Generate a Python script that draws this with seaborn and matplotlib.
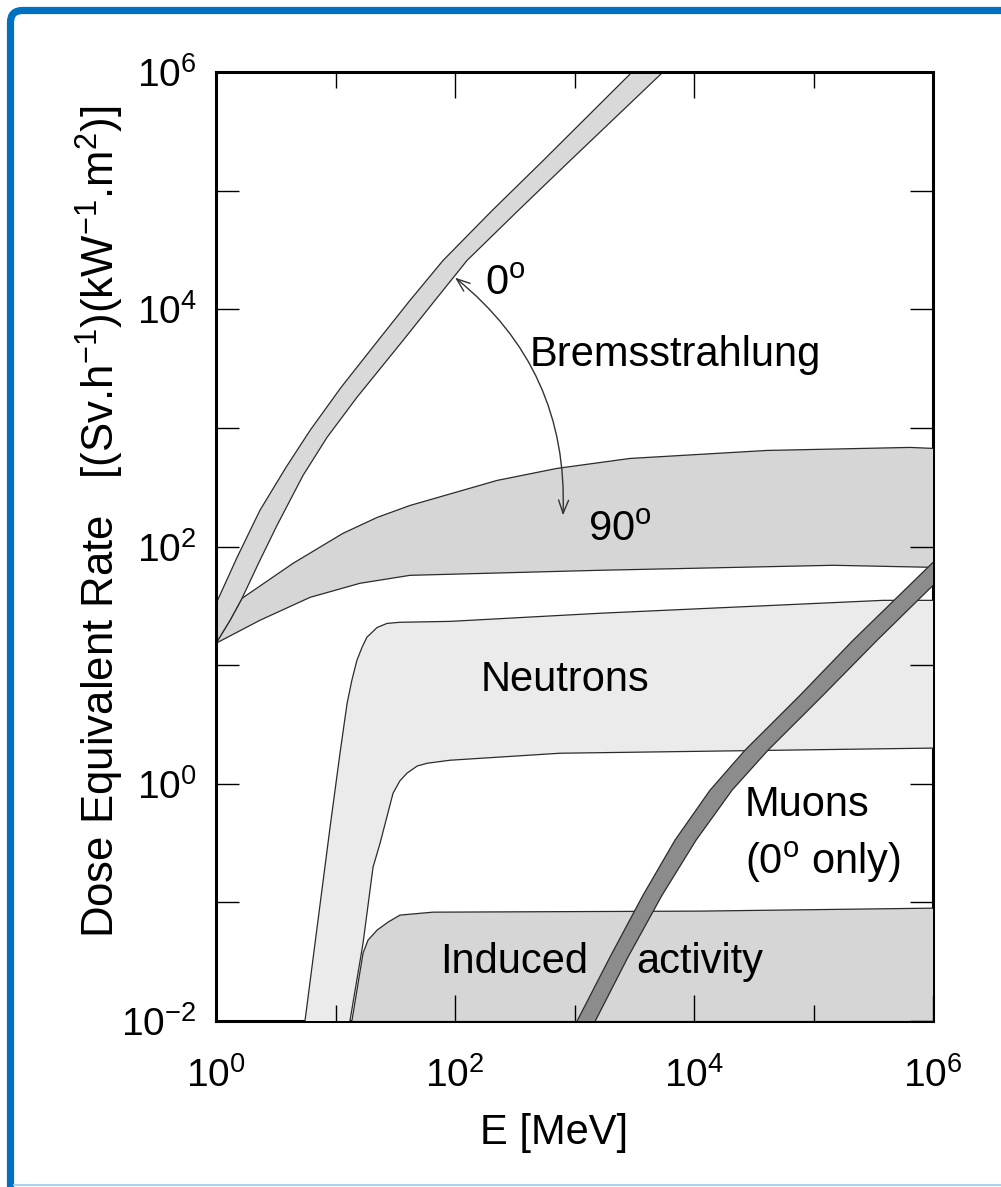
import numpy as np
import matplotlib.pyplot as plt
import seaborn as sns
from matplotlib.patches import FancyBboxPatch
from matplotlib.ticker import NullLocator

# Bremsstrahlung, 0 deg band
brems0_upper_E = [1.0, 1.5, 2.33, 3.85, 6.12, 11.1, 22.7, 42.0, 79.4, 204, 545, 3030]
brems0_upper_H = [33, 81, 202, 465, 953, 2190, 5460, 11900, 25800, 67900, 179000, 1e6]
brems0_lower_E = [1.0, 1.31, 1.65, 2.33, 3.24, 5.35, 8.49, 15.1, 36.7, 68.0, 126, 337, 917, 5500]
brems0_lower_H = [15.3, 23.9, 36.6, 76.5, 151, 398, 832, 1810, 5460, 11900, 25800, 67900, 179000, 1e6]

# Bremsstrahlung, 90 deg band
brems90_upper_E = [1.0, 1.31, 1.65, 4.41, 11.5, 22.3, 42.0, 225, 714, 2910, 40800, 642000, 1e6]
brems90_upper_H = [15.3, 23.9, 36.6, 72.2, 129, 176, 222, 361, 456, 553, 646, 685, 672]
brems90_lower_E = [1.0, 2.33, 6.12, 16.0, 42.0, 1630, 146000, 1e6]
brems90_lower_H = [15.3, 23.9, 37.3, 49.0, 57.2, 63.1, 69.5, 66.8]

# Neutrons
neut_upper_E = [5.55, 9.0, 10.9, 12.5, 13.7, 15.1, 16.7, 18.3, 22.3, 27.0, 34.6, 90.8, 1630, 382000, 1e6]
neut_upper_H = [0.01, 0.43, 1.81, 4.77, 7.46, 11.0, 14.2, 17.2, 20.8, 22.5, 23.0, 23.4, 27.4, 35.2, 35.2]
neut_lower_E = [13.2, 17.0, 20.6, 23.6, 30.3, 34.6, 39.7, 48.1, 58.3, 90.8, 756, 1e6]
neut_lower_H = [0.01, 0.0454, 0.198, 0.316, 0.834, 1.06, 1.23, 1.41, 1.49, 1.58, 1.81, 2.0]

# Induced activity
induced_E = [13.7, 17.0, 18.7, 22.3, 27.5, 34.6, 65.5, 11200, 1e6]
induced_H = [0.01, 0.0374, 0.0481, 0.0585, 0.0682, 0.0782, 0.0828, 0.0845, 0.0895]

# Muons (0 deg only)
muon_upper_E = [1050, 1980, 3740, 6930, 13600, 26700, 77100, 214000, 1e6]
muon_upper_H = [0.01, 0.0346, 0.115, 0.335, 0.883, 1.92, 5.57, 16.2, 73.6]
muon_lower_E = [1490, 2800, 5400, 10400, 20800, 41600, 120000, 340000, 1e6]
muon_lower_H = [0.01, 0.0346, 0.115, 0.335, 0.883, 1.92, 5.57, 16.2, 47.1]

x_ticks = [1, 1e2, 1e4, 1e6]
x_ticklabels = ['$10^{0}$', '$10^{2}$', '$10^{4}$', '$10^{6}$']
x_minor_ticks = [10, 1e3, 1e5]
y_ticks = [1e-2, 1e-1, 1, 10, 1e2, 1e3, 1e4, 1e5, 1e6]
y_ticklabels = ['$10^{-2}$', '', '$10^{0}$', '', '$10^{2}$', '', '$10^{4}$', '', '$10^{6}$']

sns.set_theme(style='ticks')
plt.rcParams['font.family'] = ['Liberation Sans', 'DejaVu Sans']
plt.rcParams['mathtext.fontset'] = 'custom'
plt.rcParams['mathtext.rm'] = 'Liberation Sans'
plt.rcParams['mathtext.default'] = 'regular'
plt.rcParams['text.color'] = 'black'
plt.rcParams['axes.labelcolor'] = 'black'
plt.rcParams['xtick.color'] = 'black'
plt.rcParams['ytick.color'] = 'black'

fig = plt.figure(figsize=(10.01, 11.87), dpi=100)
ax = fig.add_axes([0.2158, 0.1398, 0.7163, 0.7995])
ax.set_xscale('log')
ax.set_yscale('log')
ax.set_xlim(1, 1e6)
ax.set_ylim(1e-2, 1e6)

edge = '#2b2b2b'


def band(uE, uH, lE, lH, color, z=1):
    xs = list(uE) + list(lE)[::-1]
    ys = list(uH) + list(lH)[::-1]
    ax.fill(xs, ys, color=color, lw=0, zorder=z)
    sns.lineplot(x=uE, y=uH, sort=False, estimator=None, color=edge, lw=0.9, ax=ax, zorder=z + 0.1)
    sns.lineplot(x=lE, y=lH, sort=False, estimator=None, color=edge, lw=0.9, ax=ax, zorder=z + 0.1)


band(neut_upper_E, neut_upper_H, neut_lower_E, neut_lower_H, '#ebebeb')
band(induced_E, induced_H, [induced_E[0], 1e6], [0.01, 0.01], '#d6d6d6')
band(brems90_upper_E, brems90_upper_H, brems90_lower_E, brems90_lower_H, '#d6d6d6')
band(brems0_upper_E, brems0_upper_H, brems0_lower_E, brems0_lower_H, '#d9d9d9', z=1.2)
band(muon_upper_E, muon_upper_H, muon_lower_E, muon_lower_H, '#8c8c8c', z=1.4)

# labels
fs = 30
ax.text(178, 16500, '0$^{o}$', fontsize=fs, va='center', ha='left')
ax.text(424, 4080, 'Bremsstrahlung', fontsize=fs, va='center', ha='left')
ax.text(1300, 137, '90$^{o}$', fontsize=fs, va='center', ha='left')
ax.text(165, 7.46, 'Neutrons', fontsize=fs, va='center', ha='left')
ax.text(26700, 0.661, 'Muons', fontsize=fs, va='center', ha='left')
ax.text(26700, 0.219, '(0$^{o}$ only)', fontsize=fs, va='center', ha='left')
ax.text(74.9, 0.0314, 'Induced', fontsize=fs, va='center', ha='left')
ax.text(3270, 0.0314, 'activity', fontsize=fs, va='center', ha='left')

# curved double arrow from 0 deg to 90 deg
ax.annotate('', xy=(801, 183), xytext=(100, 18500),
            arrowprops=dict(arrowstyle='<->,head_length=0.8,head_width=0.3', color='#333333', lw=1.0,
                            shrinkA=0, shrinkB=0, connectionstyle='arc3,rad=-0.25'))

ax.set_xticks(x_ticks, labels=x_ticklabels)
ax.set_xticks(x_minor_ticks, labels=['', '', ''], minor=True)
ax.set_yticks(y_ticks, labels=y_ticklabels)
ax.yaxis.set_minor_locator(NullLocator())
ax.tick_params(axis='x', which='major', direction='in', length=18.5, width=1.0, top=True, bottom=True,
               labelsize=28, pad=26)
ax.tick_params(axis='x', which='minor', direction='in', length=11.5, width=1.0, top=True, bottom=True)
ax.tick_params(axis='y', which='major', direction='in', length=16.5, width=1.0, left=True, right=True,
               labelsize=28, pad=14)
ax.set_axisbelow(False)

for side in ['left', 'top', 'right', 'bottom']:
    ax.spines[side].set_linewidth(2.2)
    ax.spines[side].set_color('black')
ax.spines['right'].set_zorder(0.9)
ax.spines['bottom'].set_zorder(0.9)

ax.set_xlabel('E [MeV]', fontsize=30)
ax.xaxis.set_label_coords(0.471, -0.097)
ax.set_ylabel('Dose Equivalent Rate   [(Sv.h$^{-1}$)(kW$^{-1}$.m$^{2}$)]', fontsize=31.5, va='center')
ax.yaxis.set_label_coords(-0.162, 0.526)

# blue slide frame
frame = FancyBboxPatch((0.105, -1), 20, 12.765, boxstyle='round,pad=0,rounding_size=0.12',
                       transform=fig.dpi_scale_trans, fill=False, edgecolor='#0070c0', lw=5.2, clip_on=False)
fig.patches.append(frame)
fig.add_artist(plt.Line2D([0.14, 10.01], [0.02, 0.02], transform=fig.dpi_scale_trans, color='#a9d3f0', lw=1.5))

fig.savefig('out.png', dpi=100)
